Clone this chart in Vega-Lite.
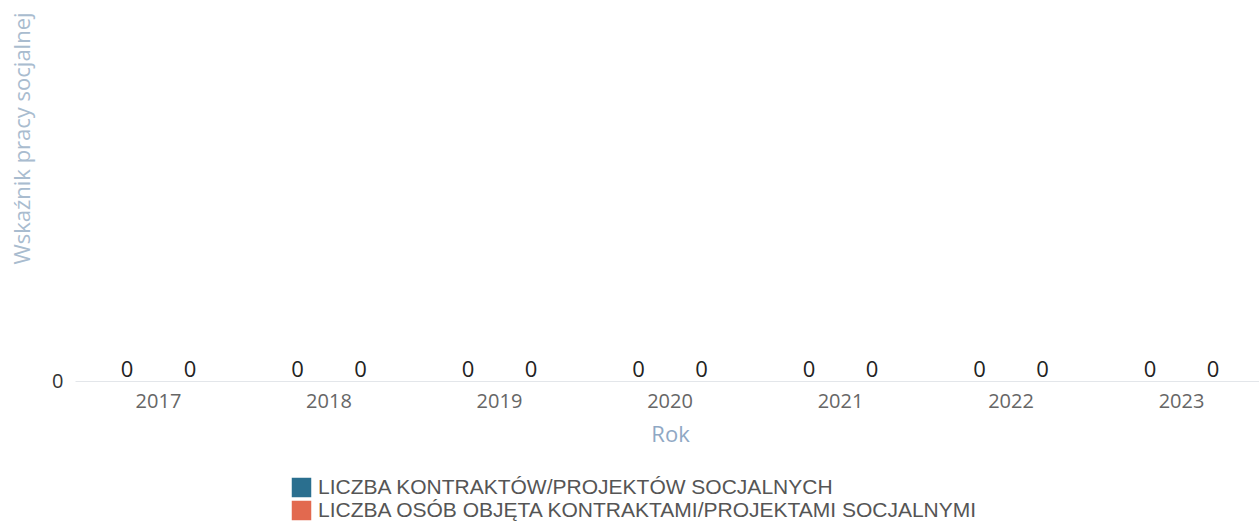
{
  "$schema": "https://vega.github.io/schema/vega-lite/v6.json",
  "width": 1184,
  "height": 381,
  "autosize": {"type": "none"},
  "padding": {"left": 75, "top": 0, "right": 0, "bottom": 141},
  "background": "white",
  "config": {"view": {"stroke": null}, "font": "Open Sans"},
  "data": {
    "values": [
      {"Rok": "2017", "Seria": "LICZBA KONTRAKTÓW/PROJEKTÓW SOCJALNYCH", "Wartosc": 0},
      {"Rok": "2017", "Seria": "LICZBA OSÓB OBJĘTA KONTRAKTAMI/PROJEKTAMI SOCJALNYMI", "Wartosc": 0},
      {"Rok": "2018", "Seria": "LICZBA KONTRAKTÓW/PROJEKTÓW SOCJALNYCH", "Wartosc": 0},
      {"Rok": "2018", "Seria": "LICZBA OSÓB OBJĘTA KONTRAKTAMI/PROJEKTAMI SOCJALNYMI", "Wartosc": 0},
      {"Rok": "2019", "Seria": "LICZBA KONTRAKTÓW/PROJEKTÓW SOCJALNYCH", "Wartosc": 0},
      {"Rok": "2019", "Seria": "LICZBA OSÓB OBJĘTA KONTRAKTAMI/PROJEKTAMI SOCJALNYMI", "Wartosc": 0},
      {"Rok": "2020", "Seria": "LICZBA KONTRAKTÓW/PROJEKTÓW SOCJALNYCH", "Wartosc": 0},
      {"Rok": "2020", "Seria": "LICZBA OSÓB OBJĘTA KONTRAKTAMI/PROJEKTAMI SOCJALNYMI", "Wartosc": 0},
      {"Rok": "2021", "Seria": "LICZBA KONTRAKTÓW/PROJEKTÓW SOCJALNYCH", "Wartosc": 0},
      {"Rok": "2021", "Seria": "LICZBA OSÓB OBJĘTA KONTRAKTAMI/PROJEKTAMI SOCJALNYMI", "Wartosc": 0},
      {"Rok": "2022", "Seria": "LICZBA KONTRAKTÓW/PROJEKTÓW SOCJALNYCH", "Wartosc": 0},
      {"Rok": "2022", "Seria": "LICZBA OSÓB OBJĘTA KONTRAKTAMI/PROJEKTAMI SOCJALNYMI", "Wartosc": 0},
      {"Rok": "2023", "Seria": "LICZBA KONTRAKTÓW/PROJEKTÓW SOCJALNYCH", "Wartosc": 0},
      {"Rok": "2023", "Seria": "LICZBA OSÓB OBJĘTA KONTRAKTAMI/PROJEKTAMI SOCJALNYMI", "Wartosc": 0}
    ]
  },
  "encoding": {
    "x": {
      "field": "Rok", "type": "nominal",
      "scale": {"paddingInner": 0.261, "paddingOuter": 0.12, "range": [0, 1190]},
      "axis": {
        "title": "Rok", "labelAngle": 0, "labelFontSize": 20, "labelColor": "#666666",
        "labelPadding": 10, "ticks": false, "domainColor": "#e3e6ea", "domainWidth": 1,
        "titleFontSize": 22, "titleFontWeight": "normal", "titleColor": "#8fa8c4", "titlePadding": 13
      }
    },
    "xOffset": {"field": "Seria", "type": "nominal"},
    "y": {
      "field": "Wartosc", "type": "quantitative",
      "scale": {"domain": [0, 1]},
      "axis": {
        "title": "Wskaźnik pracy socjalnej", "values": [0], "grid": false, "domain": false, "ticks": false,
        "labelFontSize": 20, "labelColor": "#333333", "labelPadding": 12,
        "titleFontSize": 22, "titleFontWeight": "normal", "titleColor": "#a9bccf",
        "titleX": -53, "titleY": 138, "titleAlign": "center", "titleBaseline": "middle", "titleAngle": -90
      }
    },
    "color": {
      "field": "Seria", "type": "nominal",
      "scale": {"range": ["#2a6f8f", "#e2694f"]},
      "legend": {
        "title": null, "orient": "none", "legendX": 216, "legendY": 477, "direction": "vertical",
        "symbolType": "square", "symbolSize": 380, "symbolStrokeWidth": 0, "symbolOpacity": 1,
        "labelFont": "Liberation Sans", "labelFontSize": 21, "labelColor": "#555555",
        "rowPadding": 1, "labelOffset": 6, "labelLimit": 900
      }
    }
  },
  "layer": [
    {"mark": {"type": "bar"}},
    {
      "mark": {"type": "text", "dy": -11, "fontSize": 22, "color": "#222222"},
      "encoding": {"text": {"field": "Wartosc", "type": "quantitative"}, "color": {"value": "#222222"}}
    }
  ]
}
